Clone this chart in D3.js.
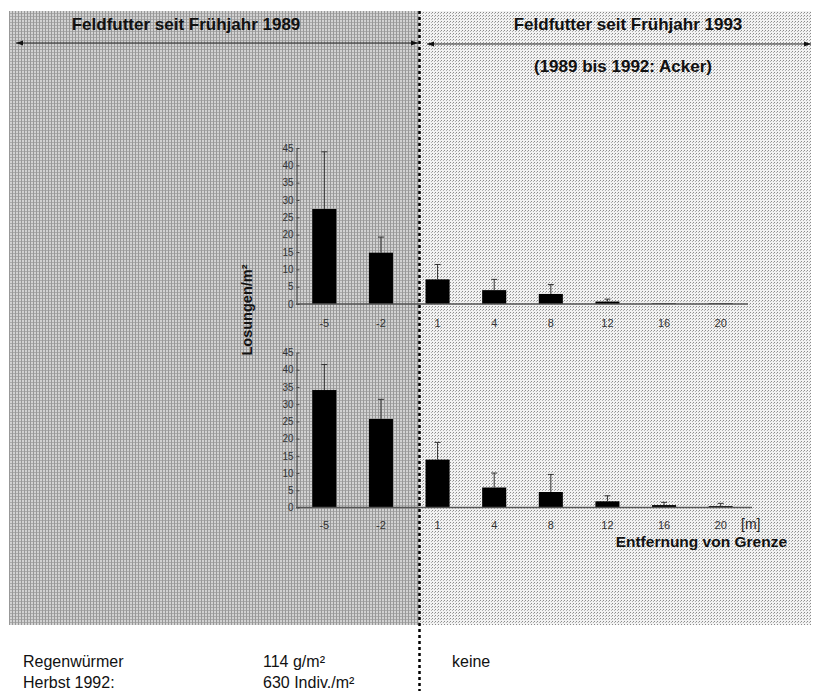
<!DOCTYPE html>
<html>
<head>
<meta charset="utf-8">
<script src="https://cdn.jsdelivr.net/npm/d3@7"></script>
<style>
  html, body { margin: 0; padding: 0; background: #fff; }
  svg { display: block; font-family: "Liberation Sans", Arial, sans-serif; }
</style>
</head>
<body>
<svg id="chart" width="816" height="691"></svg>
<script>
// Distance from the field boundary [m]
const distances = ["-5", "-2", "1", "4", "8", "12", "16", "20"];
// Casts per m², upper panel: mean and upper error bound
const upperMeans = [27.4, 14.8, 7.1, 4.0, 2.9, 0.7, 0.2, 0.2];
const upperErr   = [43.9, 19.3, 11.4, 7.1, 5.6, 1.4, null, null];
// Casts per m², lower panel
const lowerMeans = [34.1, 25.7, 13.9, 5.8, 4.5, 1.8, 0.7, 0.4];
const lowerErr   = [41.5, 31.4, 18.9, 10.0, 9.6, 3.4, 1.5, 1.2];
const yTicks = [0, 5, 10, 15, 20, 25, 30, 35, 40, 45];

const svg = d3.select("#chart");
const defs = svg.append("defs");

// stippled fills for the two field strips
const pl = defs.append("pattern").attr("id", "leftFill")
  .attr("width", 3).attr("height", 3).attr("patternUnits", "userSpaceOnUse");
pl.append("rect").attr("width", 3).attr("height", 3).attr("fill", "#d2d2d2");
pl.append("rect").attr("x", 0).attr("y", 0).attr("width", 1).attr("height", 3).attr("fill", "#989898");
pl.append("rect").attr("x", 1).attr("y", 1).attr("width", 2).attr("height", 1).attr("fill", "#aaaaaa");

const pr = defs.append("pattern").attr("id", "rightFill")
  .attr("width", 3).attr("height", 3).attr("patternUnits", "userSpaceOnUse");
pr.append("rect").attr("width", 3).attr("height", 3).attr("fill", "#f2f2f2");
pr.append("rect").attr("x", 0).attr("y", 0).attr("width", 1).attr("height", 1).attr("fill", "#8a8a8a");
pr.append("rect").attr("x", 2).attr("y", 1).attr("width", 1).attr("height", 1).attr("fill", "#b0b0b0");

const mk = defs.append("marker").attr("id", "arrow")
  .attr("viewBox", "0 0 10 10").attr("refX", 10).attr("refY", 5)
  .attr("markerWidth", 15).attr("markerHeight", 7).attr("markerUnits", "userSpaceOnUse")
  .attr("orient", "auto-start-reverse");
mk.append("path").attr("d", "M0,1.5 L10,5 L0,8.5 Z").attr("fill", "#111");

const border = 419.5;
svg.append("rect").attr("x", 9).attr("y", 11).attr("width", border - 9).attr("height", 614)
  .attr("fill", "url(#leftFill)");
svg.append("rect").attr("x", border).attr("y", 11).attr("width", 811 - border).attr("height", 614)
  .attr("fill", "url(#rightFill)");

// headings with arrows
svg.append("text").attr("x", 186).attr("y", 30).attr("text-anchor", "middle")
  .attr("font-weight", "bold").attr("font-size", 17).attr("fill", "#111")
  .text("Feldfutter seit Frühjahr 1989");
svg.append("line").attr("x1", 16).attr("x2", 418).attr("y1", 43).attr("y2", 43)
  .attr("stroke", "#222").attr("stroke-width", 1)
  .attr("marker-start", "url(#arrow)").attr("marker-end", "url(#arrow)");

svg.append("text").attr("x", 628).attr("y", 30).attr("text-anchor", "middle")
  .attr("font-weight", "bold").attr("font-size", 17).attr("fill", "#111")
  .text("Feldfutter seit Frühjahr 1993");
svg.append("line").attr("x1", 427).attr("x2", 811).attr("y1", 44).attr("y2", 44)
  .attr("stroke", "#222").attr("stroke-width", 1)
  .attr("marker-start", "url(#arrow)").attr("marker-end", "url(#arrow)");
svg.append("text").attr("x", 623).attr("y", 72).attr("text-anchor", "middle")
  .attr("font-weight", "bold").attr("font-size", 17).attr("fill", "#111")
  .text("(1989 bis 1992: Acker)");

// shared x scale
const x = d3.scaleBand().domain(distances).range([296, 749])
  .paddingInner(0.575).paddingOuter(0.2875);

function panel(means, errs, y0, y45, axisEnd, labelY) {
  const y = d3.scaleLinear().domain([0, 45]).range([y0, y45]);
  const g = svg.append("g");

  // bars
  g.selectAll("rect.bar").data(means).join("rect").attr("class", "bar")
    .attr("x", (d, i) => x(distances[i]))
    .attr("width", x.bandwidth())
    .attr("y", d => y(d))
    .attr("height", d => y(0) - y(d))
    .attr("fill", "#000");

  // upper error whiskers
  const eg = g.selectAll("g.err").data(errs.map((e, i) => ({ e, m: means[i], c: distances[i] }))
    .filter(d => d.e != null)).join("g").attr("class", "err");
  eg.append("line")
    .attr("x1", d => x(d.c) + x.bandwidth() / 2).attr("x2", d => x(d.c) + x.bandwidth() / 2)
    .attr("y1", d => y(d.m)).attr("y2", d => y(d.e))
    .attr("stroke", "#333").attr("stroke-width", 1);
  eg.append("line")
    .attr("x1", d => x(d.c) + x.bandwidth() / 2 - 3).attr("x2", d => x(d.c) + x.bandwidth() / 2 + 3)
    .attr("y1", d => y(d.e)).attr("y2", d => y(d.e))
    .attr("stroke", "#333").attr("stroke-width", 1);

  // baseline
  g.append("line").attr("x1", 296).attr("x2", axisEnd).attr("y1", y(0)).attr("y2", y(0))
    .attr("stroke", "#555").attr("stroke-width", 1.5);

  // y axis
  const ax = g.append("g").attr("transform", "translate(296.5,0)")
    .call(d3.axisLeft(y).tickValues(yTicks).tickSizeInner(-3).tickSizeOuter(0).tickPadding(3));
  ax.select(".domain").attr("stroke", "#555").attr("stroke-width", 1.2);
  ax.selectAll(".tick line").attr("stroke", "#444");
  ax.selectAll(".tick text").attr("font-size", 10).attr("fill", "#333")
    .attr("font-family", "Liberation Sans, Arial, sans-serif");

  // category labels
  g.selectAll("text.cat").data(distances).join("text").attr("class", "cat")
    .attr("x", d => x(d) + x.bandwidth() / 2).attr("y", labelY)
    .attr("text-anchor", "middle").attr("font-size", 11).attr("fill", "#333")
    .text(d => d);
}

panel(upperMeans, upperErr, 304, 148, 748, 327);
panel(lowerMeans, lowerErr, 507.5, 352.5, 752, 529);

svg.append("text").attr("x", 741).attr("y", 529).attr("font-size", 14).attr("fill", "#222")
  .text("[m]");
svg.append("text").attr("x", 787).attr("y", 547).attr("text-anchor", "end")
  .attr("font-weight", "bold").attr("font-size", 15.5).attr("fill", "#111")
  .text("Entfernung von Grenze");

// y title
svg.append("text").attr("transform", "translate(252,310) rotate(-90)")
  .attr("text-anchor", "middle").attr("font-weight", "bold").attr("font-size", 14.5)
  .attr("fill", "#111").text("Losungen/m²");

// field boundary
svg.append("line").attr("x1", border).attr("x2", border).attr("y1", 11).attr("y2", 691)
  .attr("stroke", "#000").attr("stroke-width", 2.5).attr("stroke-dasharray", "3,3");

// earthworm notes
const note = [
  { t: "Regenwürmer", x: 23, y: 667 },
  { t: "Herbst 1992:", x: 23, y: 688 },
  { t: "114 g/m²", x: 263, y: 667 },
  { t: "630 Indiv./m²", x: 263, y: 688 },
  { t: "keine", x: 452, y: 667 }
];
svg.selectAll("text.note").data(note).join("text").attr("class", "note")
  .attr("x", d => d.x).attr("y", d => d.y).attr("font-size", 16).attr("fill", "#111")
  .text(d => d.t);
</script>
</body>
</html>
